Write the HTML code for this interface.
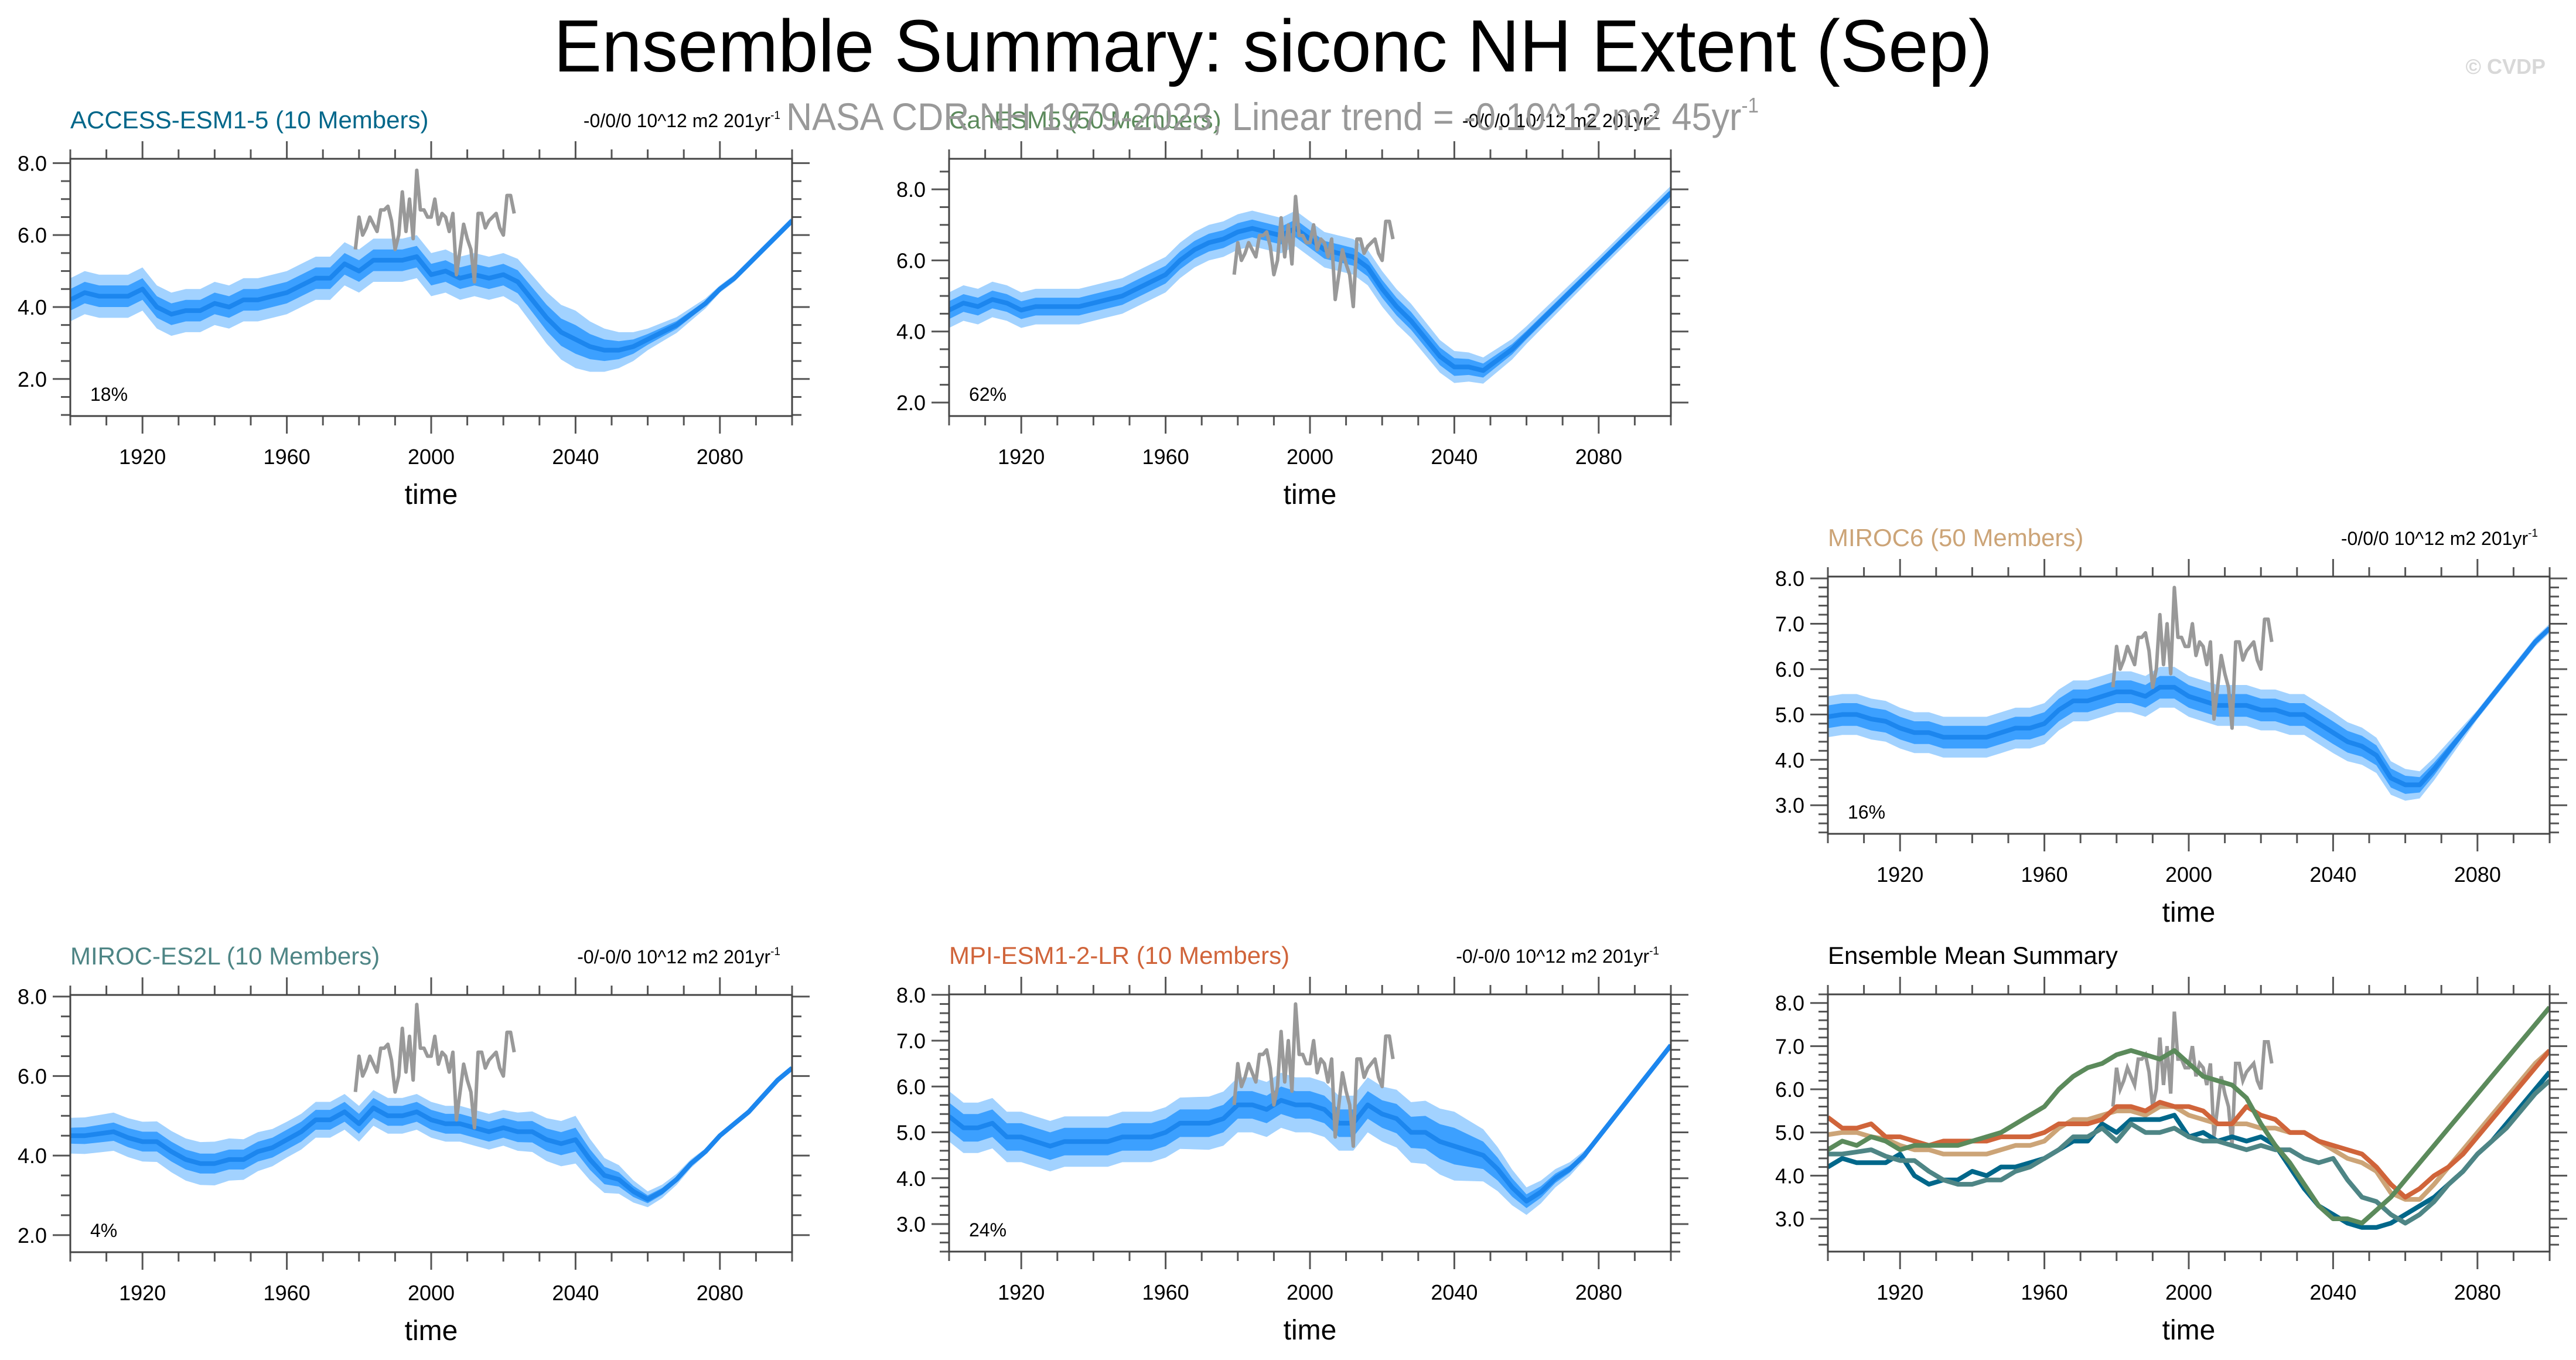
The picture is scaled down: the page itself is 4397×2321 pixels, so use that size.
<!DOCTYPE html>
<html><head><meta charset="utf-8"><style>
html,body{margin:0;padding:0;background:#fff}
svg{display:block;font-family:"Liberation Sans",sans-serif}
</style></head><body>
<svg id="fig" width="4397" height="2321" viewBox="0 0 4397 2321" xmlns="http://www.w3.org/2000/svg">
<rect width="4397" height="2321" fill="#fff"/>
<text x="2173" y="122" font-size="126" text-anchor="middle" textLength="2456" lengthAdjust="spacingAndGlyphs" fill="#000">Ensemble Summary: siconc NH Extent (Sep)</text>
<text x="4345" y="126" font-size="36" text-anchor="end" fill="#d8d8d8" font-weight="bold">© CVDP</text>
<g id="panels"></g>
<text x="2172" y="222" font-size="66" text-anchor="middle" textLength="1660" lengthAdjust="spacingAndGlyphs" fill="#999">NASA CDR NH 1979-2023, Linear trend = -0.10^12 m2 45yr<tspan font-size="36" dy="-30">-1</tspan></text>
</svg>
<script>
// ---- data ----
const years4 = [];
for (let y = 1900; y <= 2100; y += 4) years4.push(y);
const spreadYears = [1900,1920,1940,1960,1980,2000,2020,2040,2060,2080,2100];
const obsYears = [];
for (let y = 1979; y <= 2023; y++) obsYears.push(y);
const obsValues = [5.6,6.5,6.0,6.2,6.5,6.3,6.1,6.7,6.7,6.8,6.4,5.6,6.0,7.2,6.1,7.0,5.9,7.8,6.7,6.7,6.5,6.5,7.0,6.3,6.6,6.5,6.1,6.6,4.9,5.6,6.3,5.9,5.6,4.7,6.6,6.6,6.2,6.4,6.5,6.6,6.2,6.0,7.1,7.1,6.6];

const accessMean = [4.2,4.4,4.3,4.3,4.3,4.5,4.0,3.8,3.9,3.9,4.1,4.0,4.2,4.2,4.3,4.4,4.6,4.8,4.8,5.2,5.0,5.3,5.3,5.3,5.4,4.9,5.0,4.8,4.9,4.8,4.9,4.7,4.2,3.7,3.3,3.1,2.9,2.8,2.8,2.9,3.1,3.3,3.5,3.8,4.1,4.5,4.8,5.2,5.6,6.0,6.4];
const canesmMean = [4.6,4.8,4.7,4.9,4.8,4.6,4.7,4.7,4.7,4.7,4.8,4.9,5.0,5.2,5.4,5.6,6.0,6.3,6.5,6.6,6.8,6.9,6.8,6.7,6.9,6.6,6.3,6.2,6.1,5.8,5.2,4.7,4.3,3.8,3.3,3.0,3.0,2.9,3.2,3.5,3.9,4.3,4.7,5.1,5.5,5.9,6.3,6.7,7.1,7.5,7.9];
const miroc6Mean = [4.95,5.0,5.0,4.9,4.85,4.7,4.6,4.6,4.5,4.5,4.5,4.5,4.6,4.7,4.7,4.8,5.1,5.3,5.3,5.4,5.5,5.5,5.4,5.6,5.6,5.4,5.3,5.2,5.2,5.2,5.1,5.1,5.0,5.0,4.8,4.6,4.4,4.3,4.1,3.6,3.45,3.45,3.8,4.2,4.6,5.0,5.4,5.8,6.2,6.6,6.9];
const mirocEs2lMean = [4.5,4.5,4.55,4.6,4.45,4.35,4.35,4.1,3.9,3.8,3.8,3.9,3.9,4.1,4.2,4.4,4.6,4.9,4.9,5.1,4.8,5.2,5.0,5.0,5.1,4.9,4.8,4.8,4.7,4.6,4.7,4.6,4.6,4.4,4.3,4.4,3.9,3.5,3.4,3.1,2.9,3.1,3.4,3.8,4.1,4.5,4.8,5.1,5.5,5.9,6.2];
const mpiMean = [5.35,5.1,5.1,5.2,4.9,4.9,4.8,4.7,4.8,4.8,4.8,4.8,4.9,4.9,4.9,5.0,5.2,5.2,5.2,5.3,5.6,5.6,5.5,5.7,5.6,5.6,5.5,5.2,5.2,5.6,5.4,5.3,5.0,5.0,4.8,4.7,4.6,4.5,4.2,3.8,3.5,3.7,4.0,4.2,4.5,4.9,5.3,5.7,6.1,6.5,6.9];

const accessOuter = [0.6,0.6,0.6,0.6,0.6,0.6,0.6,0.8,0.3,0.1,0.1];
const accessInner = [0.3,0.3,0.3,0.3,0.3,0.3,0.3,0.4,0.15,0.05,0.05];
const canesmOuter = [0.5,0.5,0.5,0.5,0.5,0.5,0.5,0.45,0.25,0.2,0.2];
const canesmInner = [0.25,0.25,0.25,0.25,0.25,0.25,0.25,0.25,0.12,0.1,0.1];
const miroc6Outer = [0.45,0.45,0.45,0.45,0.45,0.45,0.45,0.45,0.35,0.1,0.1];
const miroc6Inner = [0.25,0.25,0.25,0.25,0.25,0.25,0.25,0.25,0.2,0.05,0.05];
const mirocEs2lOuter = [0.45,0.5,0.55,0.45,0.45,0.45,0.45,0.6,0.2,0.05,0.05];
const mirocEs2lInner = [0.2,0.25,0.25,0.25,0.25,0.25,0.25,0.3,0.1,0.03,0.03];
const mpiOuter = [0.55,0.55,0.55,0.55,0.6,0.6,0.6,0.75,0.3,0.05,0.05];
const mpiInner = [0.3,0.3,0.3,0.3,0.3,0.3,0.3,0.4,0.15,0.03,0.03];

const panels = [
 {name:'access-esm1-5', title:'ACCESS-ESM1-5 (10 Members)', color:'#00678a', sub:'-0/0/0 10^12 m2 201yr', pct:'18%', x:120, y:271, ymin:0.97, ymax:8.12, major:[2,4,6,8], minorStep:0.5, mean:accessMean, outer:accessOuter, inner:accessInner},
 {name:'canesm5', title:'CanESM5 (50 Members)', color:'#5b8a5b', sub:'-0/0/0 10^12 m2 201yr', pct:'62%', x:1620, y:271, ymin:1.62, ymax:8.86, major:[2,4,6,8], minorStep:0.5, mean:canesmMean, outer:canesmOuter, inner:canesmInner},
 {name:'miroc6', title:'MIROC6 (50 Members)', color:'#cca477', sub:'-0/0/0 10^12 m2 201yr', pct:'16%', x:3120, y:984, ymin:2.37, ymax:8.04, major:[3,4,5,6,7,8], minorStep:0.2, mean:miroc6Mean, outer:miroc6Outer, inner:miroc6Inner},
 {name:'miroc-es2l', title:'MIROC-ES2L (10 Members)', color:'#4e8585', sub:'-0/-0/0 10^12 m2 201yr', pct:'4%', x:120, y:1698, ymin:1.57, ymax:8.04, major:[2,4,6,8], minorStep:0.5, mean:mirocEs2lMean, outer:mirocEs2lOuter, inner:mirocEs2lInner},
 {name:'mpi-esm1-2-lr', title:'MPI-ESM1-2-LR (10 Members)', color:'#d0643a', sub:'-0/-0/0 10^12 m2 201yr', pct:'24%', x:1620, y:1697, ymin:2.40, ymax:8.01, major:[3,4,5,6,7,8], minorStep:0.2, mean:mpiMean, outer:mpiOuter, inner:mpiInner}
];
const summary = {name:'ensemble-mean-summary', title:'Ensemble Mean Summary', x:3120, y:1697, ymin:2.24, ymax:8.2, major:[3,4,5,6,7,8], minorStep:0.2};

const W = 1232, H = 439;
const NS = 'http://www.w3.org/2000/svg';
const root = document.getElementById('panels');
function mk(tag, attrs, parent){ const e=document.createElementNS(NS,tag); for(const k in attrs) e.setAttribute(k,attrs[k]); parent.appendChild(e); return e; }
function interp(xs, ys, x){ for(let i=0;i<xs.length-1;i++){ if(x<=xs[i+1]){ const t=(x-xs[i])/(xs[i+1]-xs[i]); return ys[i]+t*(ys[i+1]-ys[i]); } } return ys[ys.length-1]; }

function drawAxes(p, g){
  const sx = yr => p.x + (yr-1900)/200*W;
  const sy = v => p.y + H - (v-p.ymin)/(p.ymax-p.ymin)*H;
  const tg = mk('g',{stroke:'#555','stroke-width':3},g);
   
  for(let yr=1900; yr<=2100; yr+=10){
    const maj = (yr-1920)%40===0 && yr>=1920 && yr<=2080;
    const L = maj?30:16;
    mk('line',{x1:sx(yr),x2:sx(yr),y1:p.y+H,y2:p.y+H+L},tg);
    mk('line',{x1:sx(yr),x2:sx(yr),y1:p.y,y2:p.y-L},tg);
  }
  const start = Math.ceil(p.ymin/p.minorStep-1e-6)*p.minorStep;
  for(let v=start; v<=p.ymax+1e-6; v+=p.minorStep){
    const vr=Math.round(v*100)/100;
    const maj = p.major.some(m=>Math.abs(m-vr)<1e-6);
    const L = maj?30:16;
    mk('line',{x1:p.x,x2:p.x-L,y1:sy(vr),y2:sy(vr)},tg);
    mk('line',{x1:p.x+W,x2:p.x+W+L,y1:sy(vr),y2:sy(vr)},tg);
  }
  [1920,1960,2000,2040,2080].forEach(yr=>{
    const t=mk('text',{x:sx(yr),y:p.y+H+82,'font-size':36,'text-anchor':'middle',fill:'#000'},g);
     
    t.textContent=yr;
  });
  p.major.forEach(v=>{
    const t=mk('text',{x:p.x-40,y:sy(v)+13,'font-size':36,'text-anchor':'end',fill:'#000'},g);
     
    t.textContent=v.toFixed(1);
  });
  const xt=mk('text',{x:p.x+W/2,y:p.y+H+150,'font-size':48,'text-anchor':'middle',fill:'#000'},g);
   
  xt.textContent='time';
  return {sx, sy};
}
function linePath(xs, ys, sx, sy){ return xs.map((x,i)=>(i?'L':'M')+sx(x).toFixed(1)+','+sy(ys[i]).toFixed(1)).join(''); }

panels.forEach(p=>{
  const g = mk('g',{},root);
   
  const clip = mk('clipPath',{id:'c-'+p.name},g);
  mk('rect',{x:p.x,y:p.y,width:W,height:H},clip);
  const {sx, sy} = drawAxes(p, g);
  const dg = mk('g',{'clip-path':'url(#c-'+p.name+')'},g);
  [['outer','#a2d2ff'],['inner','#3ca0ff']].forEach(([k,col])=>{
    const sp = p[k];
    const hi = years4.map((yr,i)=>p.mean[i]+interp(spreadYears,sp,yr));
    const lo = years4.map((yr,i)=>p.mean[i]-interp(spreadYears,sp,yr));
    let d = linePath(years4,hi,sx,sy);
    for(let i=years4.length-1;i>=0;i--) d+='L'+sx(years4[i]).toFixed(1)+','+sy(lo[i]).toFixed(1);
    const band = mk('path',{d:d+'Z',fill:col},dg);
     
  });
  const ml = mk('path',{d:linePath(years4,p.mean,sx,sy),fill:'none',stroke:'#1c86ee','stroke-width':8,'stroke-linejoin':'round'},dg);
   
  const ol = mk('path',{d:linePath(obsYears,obsValues,sx,sy),fill:'none',stroke:'#999','stroke-width':6,'stroke-linejoin':'round'},dg);
   
  const fr = mk('rect',{x:p.x,y:p.y,width:W,height:H,fill:'none',stroke:'#444','stroke-width':3},g);
   
  const pt = mk('text',{x:p.x+34,y:p.y+H-26,'font-size':32,fill:'#000'},g);
   
  pt.textContent=p.pct;
  const tt = mk('text',{x:p.x,y:p.y-52,'font-size':42,fill:p.color},g);
   
  tt.textContent=p.title;
  const st = mk('text',{x:p.x+W-20,y:p.y-54,'font-size':32,'text-anchor':'end',fill:'#000'},g);
   
  st.textContent=p.sub;
  const sup = mk('tspan',{'font-size':19,dy:-14},st);
  sup.textContent='-1';
});

(function(){
  const p = summary;
  const g = mk('g',{},root);
   
  const clip = mk('clipPath',{id:'c-sum'},g);
  mk('rect',{x:p.x,y:p.y,width:W,height:H},clip);
  const {sx, sy} = drawAxes(p, g);
  const dg = mk('g',{'clip-path':'url(#c-sum)'},g);
  const ol = mk('path',{d:linePath(obsYears,obsValues,sx,sy),fill:'none',stroke:'#999','stroke-width':6},dg);
   
  [panels[2],panels[0],panels[3],panels[4],panels[1]].forEach(m=>{
    const l = mk('path',{d:linePath(years4,m.mean,sx,sy),fill:'none',stroke:m.color,'stroke-width':8,'stroke-linejoin':'round'},dg);
     
  });
  const fr = mk('rect',{x:p.x,y:p.y,width:W,height:H,fill:'none',stroke:'#444','stroke-width':3},g);
   
  const tt = mk('text',{x:p.x,y:p.y-52,'font-size':42,fill:'#000'},g);
   
  tt.textContent=p.title;
})();
</script>
</body></html>
